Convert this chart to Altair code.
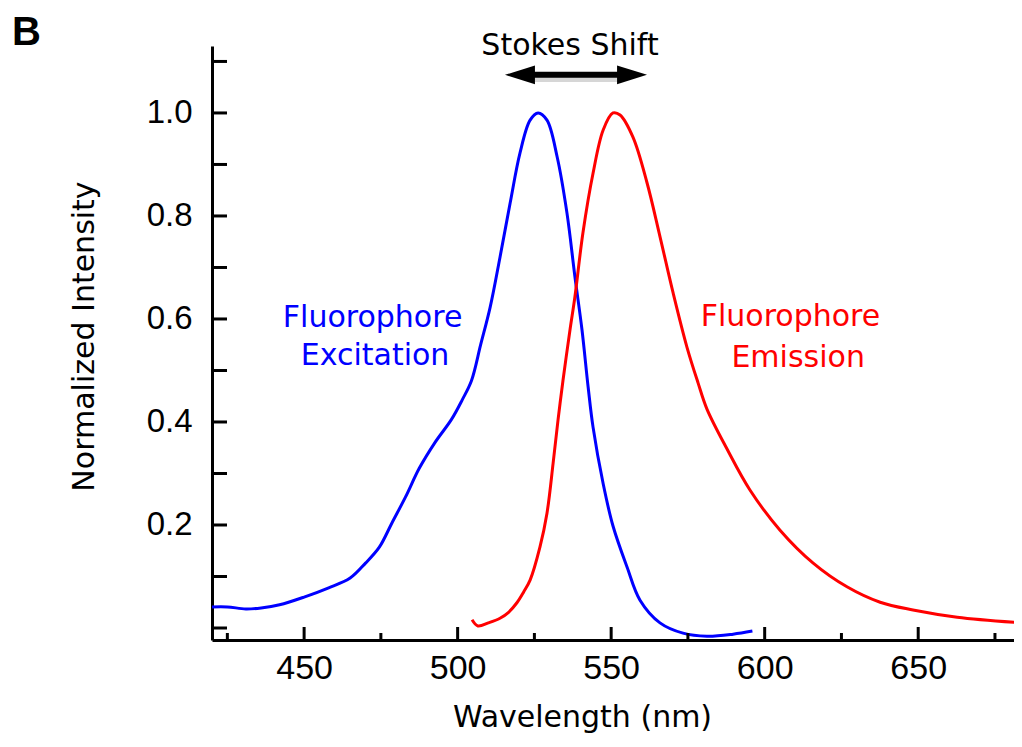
import altair as alt
import pandas as pd

# ---- data ----
blue_nm = [420, 425, 431, 436, 442, 450, 458, 465, 470, 474.5, 478.6, 483, 487.5, 492.6, 498,
           501.5, 504.5, 507.5, 510.6, 513.8, 517.1, 520.3, 523.6, 526.2, 529.1, 532.4, 535.6,
           538.2, 540.5, 542.5, 544.1, 547.4, 550.6, 555.2, 559.4, 565.9, 573.4, 581.2, 589.7, 596]
blue_int = [0.041, 0.041, 0.037, 0.039, 0.045, 0.06, 0.078, 0.097, 0.126, 0.157, 0.204, 0.254,
            0.31, 0.36, 0.405, 0.443, 0.48, 0.55, 0.623, 0.72, 0.825, 0.922, 0.986, 1.0, 0.986,
            0.915, 0.806, 0.682, 0.579, 0.468, 0.39, 0.28, 0.198, 0.118, 0.054, 0.010, -0.01,
            -0.016, -0.012, -0.006]

red_nm = [504.7, 506.6, 510, 513.8, 516.5, 519.3, 521.5, 523.6, 526.8, 529.1, 531.1, 532.7,
          534.3, 536.6, 538.2, 540.8, 544.1, 547.4, 550.6, 552.9, 557.1, 561.7, 565.9, 570.2,
          574.7, 578.3, 581.2, 587.7, 595.2, 605, 615.8, 626.8, 637.6, 648.3, 662.7, 683.8]
red_int = [0.016, 0.004, 0.01, 0.019, 0.03, 0.049, 0.07, 0.093, 0.157, 0.223, 0.32, 0.404,
           0.48, 0.579, 0.643, 0.767, 0.883, 0.967, 1.0, 0.996, 0.953, 0.864, 0.76, 0.65,
           0.545, 0.476, 0.425, 0.348, 0.268, 0.19, 0.126, 0.08, 0.05, 0.035, 0.021, 0.01]

label_text = ["Fluorophore", "Excitation", "Fluorophore", "Emission"]
label_nm = [472.3, 473.1, 608.4, 610.9]
label_int = [0.585, 0.511, 0.586, 0.507]
label_color = ["#0000ff", "#0000ff", "#ff0000", "#ff0000"]

x_major = [450, 500, 550, 600, 650]
x_minor = [425, 475, 525, 575, 625, 675]
y_ticks = [0.0, 0.1, 0.2, 0.3, 0.4, 0.5, 0.6, 0.7, 0.8, 0.9, 1.0, 1.1]
y_labels = [0.2, 0.4, 0.6, 0.8, 1.0]

stokes_text = ["Stokes Shift"]
stokes_text_nm = [536.6]
stokes_text_int = [1.113]
arrow_left_nm = [520.3]
arrow_right_nm = [556.8]
shaft_nm = [523.5]
shaft_nm2 = [553.5]
arrow_int = [1.074]
shadow_int = [1.067]

panel_letter = ["B"]

# ---- scales / axes ----
W, H = 802, 594
xs = alt.Scale(domain=[420, 681.2], nice=False, zero=False)
ys = alt.Scale(domain=[-0.0233, 1.130], nice=False, zero=False)

x_axis = alt.Axis(values=x_major, format="d", ticks=False, grid=False,
                  domainColor="black", domainWidth=3,
                  labelFont="Liberation Sans", labelFontSize=34, labelColor="black",
                  labelPadding=11, labelFlush=False,
                  title="Wavelength (nm)", titleFont="DejaVu Sans", titleFontSize=30,
                  titleFontWeight="normal", titleColor="black",
                  titleX=370, titleY=86, titleAlign="center", titleBaseline="alphabetic")
y_axis = alt.Axis(values=y_labels, format=".1f", ticks=False, grid=False,
                  domainColor="black", domainWidth=3,
                  labelFont="Liberation Sans", labelFontSize=33, labelColor="black",
                  labelPadding=20, labelFlush=False,
                  title="Normalized Intensity", titleFont="DejaVu Sans", titleFontSize=30,
                  titleFontWeight="normal", titleColor="black", titleAngle=270,
                  titleX=-119, titleY=290, titleAlign="center", titleBaseline="alphabetic")


def X(field):
    return alt.X(f"{field}:Q", scale=xs, axis=x_axis)


def Y(field):
    return alt.Y(f"{field}:Q", scale=ys, axis=y_axis)


blue_df = pd.DataFrame({"nm": blue_nm, "v": blue_int})
red_df = pd.DataFrame({"nm": red_nm, "v": red_int})

blue_line = alt.Chart(blue_df).mark_line(color="#0000ff", strokeWidth=3, clip=True,
                                         interpolate="catmull-rom").encode(x=X("nm"), y=Y("v"))
red_line = alt.Chart(red_df).mark_line(color="#ff0000", strokeWidth=3, clip=True,
                                       interpolate="catmull-rom").encode(x=X("nm"), y=Y("v"))

labels = alt.Chart(pd.DataFrame({"nm": label_nm, "v": label_int, "t": label_text,
                                 "c": label_color})).mark_text(
    font="DejaVu Sans", fontSize=30, align="center", baseline="alphabetic"
).encode(x=X("nm"), y=Y("v"), text="t:N", color=alt.Color("c:N", scale=None))

# inward axis ticks
xmaj = alt.Chart(pd.DataFrame({"nm": x_major})).mark_rule(color="black", strokeWidth=3).encode(
    x=X("nm"), y=alt.value(H), y2=alt.value(H - 13))
xmin = alt.Chart(pd.DataFrame({"nm": x_minor})).mark_rule(color="black", strokeWidth=3).encode(
    x=X("nm"), y=alt.value(H), y2=alt.value(H - 7))
ytk = alt.Chart(pd.DataFrame({"v": y_ticks})).mark_rule(color="black", strokeWidth=3).encode(
    y=Y("v"), x=alt.value(0), x2=alt.value(15))

# Stokes shift annotation
stokes_lbl = alt.Chart(pd.DataFrame({"nm": stokes_text_nm, "v": stokes_text_int,
                                     "t": stokes_text})).mark_text(
    font="DejaVu Sans", fontSize=30, align="center", baseline="alphabetic", color="black"
).encode(x=X("nm"), y=Y("v"), text="t:N")

shadow = alt.Chart(pd.DataFrame({"nm": shaft_nm, "nm2": shaft_nm2, "v": shadow_int})).mark_rule(
    color="#bbbbbb", strokeWidth=7, opacity=0.6).encode(x=X("nm"), x2="nm2:Q", y=Y("v"))
shaft = alt.Chart(pd.DataFrame({"nm": shaft_nm, "nm2": shaft_nm2, "v": arrow_int})).mark_rule(
    color="black", strokeWidth=6).encode(x=X("nm"), x2="nm2:Q", y=Y("v"))
head_l = alt.Chart(pd.DataFrame({"nm": arrow_left_nm, "v": arrow_int})).mark_point(
    shape="M-1,0L1,-0.62L1,0.62Z", size=900, filled=True, color="black", opacity=1
).encode(x=X("nm"), y=Y("v"))
head_r = alt.Chart(pd.DataFrame({"nm": arrow_right_nm, "v": arrow_int})).mark_point(
    shape="M1,0L-1,-0.62L-1,0.62Z", size=900, filled=True, color="black", opacity=1
).encode(x=X("nm"), y=Y("v"))

letter = alt.Chart(pd.DataFrame({"t": panel_letter})).mark_text(
    font="Liberation Sans", fontSize=40, fontWeight="bold", align="left",
    baseline="alphabetic", color="black"
).encode(text="t:N", x=alt.value(-200), y=alt.value(-1))

chart = alt.layer(
    blue_line, red_line, labels, xmaj, xmin, ytk, stokes_lbl, shadow, shaft, head_l, head_r, letter
).properties(
    width=W, height=H,
    padding={"left": 204, "top": 38, "right": 0, "bottom": 93},
    autosize=alt.AutoSizeParams(type="none"),
    background="white",
).configure_view(stroke=None)

chart.save("out.html", embed_options={"renderer": "svg", "actions": False})
